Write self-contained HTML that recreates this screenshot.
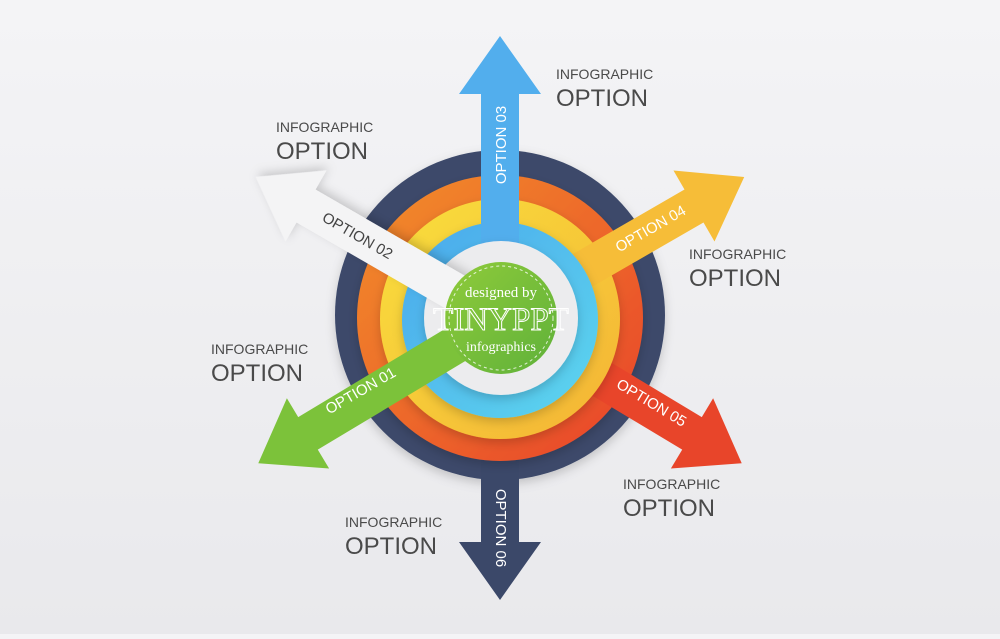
<!DOCTYPE html>
<html><head><meta charset="utf-8"><style>
html,body{margin:0;padding:0;}
body{width:1000px;height:634px;overflow:hidden;background:linear-gradient(180deg,#f4f4f6,#e9e9ec);font-family:"Liberation Sans",sans-serif;}
</style></head><body>
<svg width="1000" height="634" viewBox="0 0 1000 634" xmlns="http://www.w3.org/2000/svg">
<defs>
<filter id="sh" x="-20%" y="-20%" width="140%" height="140%"><feDropShadow dx="0" dy="4" stdDeviation="5" flood-color="#000" flood-opacity="0.18"/></filter>
<linearGradient id="og" x1="0" y1="0" x2="1" y2="1"><stop offset="0" stop-color="#f28f2c"/><stop offset="1" stop-color="#e8422a"/></linearGradient>
<linearGradient id="yg" x1="0" y1="0" x2="1" y2="1"><stop offset="0" stop-color="#f9df3c"/><stop offset="1" stop-color="#f4b335"/></linearGradient>
<linearGradient id="bg" x1="0" y1="0" x2="1" y2="1"><stop offset="0" stop-color="#4aa8ec"/><stop offset="1" stop-color="#5dd6ee"/></linearGradient>
<linearGradient id="gg" x1="0" y1="0" x2="1" y2="1"><stop offset="0" stop-color="#8fcb3a"/><stop offset="1" stop-color="#5fb13a"/></linearGradient>
<polygon id="arr" points="0,-19 224,-19 224,-41 282,0 224,41 224,19 0,19"/>
</defs>
<g font-family="Liberation Sans, sans-serif">
<!-- navy -->
<circle cx="500" cy="315" r="165" fill="#3d4a6b" filter="url(#sh)"/>
<use href="#arr" fill="#3b4869" transform="translate(500,318) rotate(90)"/>
<!-- orange -->
<circle cx="500" cy="318" r="143" fill="url(#og)" filter="url(#sh)"/>
<use href="#arr" fill="#e8452a" transform="translate(500,318) rotate(31)"/>
<!-- yellow -->
<circle cx="500" cy="319" r="120" fill="url(#yg)" filter="url(#sh)"/>
<use href="#arr" fill="#f6bd38" transform="translate(500,318) rotate(-30)"/>
<!-- blue -->
<circle cx="500" cy="320" r="98" fill="url(#bg)" filter="url(#sh)"/>
<use href="#arr" fill="#52aeed" transform="translate(500,318) rotate(-90)"/>
<!-- white -->
<circle cx="501" cy="318" r="77" fill="#ececee" filter="url(#sh)"/>
<use href="#arr" fill="#f4f4f5" filter="url(#sh)" transform="translate(500,318) rotate(210)"/>
<!-- green -->
<use href="#arr" fill="#7cc23a" transform="translate(500,318) rotate(149)"/>
<circle cx="501" cy="318" r="56" fill="url(#gg)"/>
<circle cx="501" cy="318" r="52" fill="none" stroke="#fff" stroke-width="1" stroke-dasharray="3,3" opacity="0.8"/>
<text x="501" y="297" font-family="Liberation Serif, serif" font-size="15" fill="#fff" text-anchor="middle">designed by</text>
<text x="501" y="330" font-family="Liberation Serif, serif" font-size="33" fill="none" stroke="#fff" stroke-width="1" text-anchor="middle">TINYPPT</text>
<text x="501" y="351" font-family="Liberation Serif, serif" font-size="14" fill="#fff" text-anchor="middle">infographics</text>

<!-- arrow labels -->
<g font-size="15" fill="#fff" text-anchor="middle">
<text transform="translate(506,145) rotate(-90)">OPTION 03</text>
<text transform="translate(496,528) rotate(90)">OPTION 06</text>
<text transform="translate(653,233) rotate(-30)">OPTION 04</text>
<text transform="translate(363,395) rotate(-30)">OPTION 01</text>
<text transform="translate(649,407) rotate(31)">OPTION 05</text>
<text transform="translate(355,240) rotate(30)" fill="#444">OPTION 02</text>
</g>

<!-- info labels -->
<g fill="#4a4a4a">
<text x="556" y="79" font-size="14">INFOGRAPHIC</text><text x="556" y="106" font-size="24">OPTION</text>
<text x="276" y="132" font-size="14">INFOGRAPHIC</text><text x="276" y="159" font-size="24">OPTION</text>
<text x="689" y="259" font-size="14">INFOGRAPHIC</text><text x="689" y="286" font-size="24">OPTION</text>
<text x="211" y="354" font-size="14">INFOGRAPHIC</text><text x="211" y="381" font-size="24">OPTION</text>
<text x="623" y="489" font-size="14">INFOGRAPHIC</text><text x="623" y="516" font-size="24">OPTION</text>
<text x="345" y="527" font-size="14">INFOGRAPHIC</text><text x="345" y="554" font-size="24">OPTION</text>
</g>
</g>
</svg>
</body></html>
